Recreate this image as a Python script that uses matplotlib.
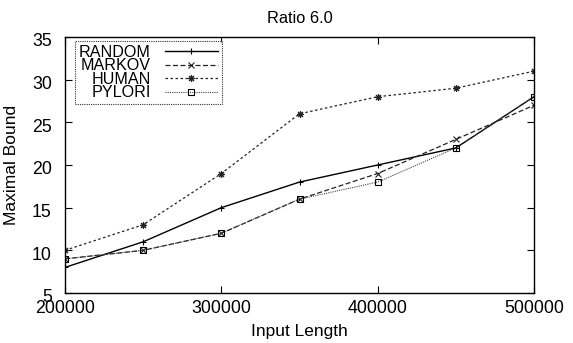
import matplotlib
matplotlib.use("Agg")
import matplotlib.pyplot as plt
from matplotlib.transforms import ScaledTranslation

plt.rcParams["font.family"] = ["Liberation Sans", "DejaVu Sans"]

lengths = [200000, 250000, 300000, 350000, 400000, 450000, 500000]
random_vals = [8, 11, 15, 18, 20, 22, 28]
markov_vals = [9, 10, 12, 16, 19, 23, 27]
human_vals = [10, 13, 19, 26, 28, 29, 31]
pylori_vals = [9, 10, 12, 16, 18, 22, 28]

fig = plt.figure(figsize=(5.73, 3.43), dpi=100)
ax = fig.add_axes([65 / 573, 1 - 293 / 343, 469 / 573, 256 / 343])

ax.plot(lengths, random_vals, color="black", lw=1.0, ls="-",
        marker="+", ms=5, mew=0.8, label="RANDOM")
ax.plot(lengths, markov_vals, color="#222222", lw=0.9, ls=(0, (4, 2)),
        marker="x", ms=4, mew=0.8, label="MARKOV")
ax.plot(lengths, human_vals, color="#222222", lw=0.9, ls=(0, (2, 2)),
        marker=(8, 2, 0), ms=5, mew=0.8, label="HUMAN")
ax.plot(lengths, pylori_vals, color="#444444", lw=0.8, ls=(0, (1, 1)),
        marker="s", ms=4, mfc="none", mec="black", mew=0.8, label="PYLORI")

ax.set_xlim(200000, 500000)
ax.set_ylim(5, 35)
ax.set_xticks([200000, 300000, 400000, 500000])
ax.set_yticks([5, 10, 15, 20, 25, 30, 35])
ax.tick_params(direction="in", top=True, right=True, length=5, width=0.8,
               labelsize=12.8)
ax.tick_params(axis="y", pad=9.5)
ax.tick_params(axis="x", pad=5)
for s in ax.spines.values():
    s.set_linewidth(1.0)

ax.set_title("Ratio 6.0", fontsize=11.8, pad=10)
ax.set_xlabel("Input Length", fontsize=12.5, labelpad=5)
ax.set_ylabel("Maximal Bound", fontsize=12.5, labelpad=9)

leg = ax.legend(loc="upper left", markerfirst=False, fontsize=11.6,
                frameon=True, fancybox=False, handlelength=3.3,
                borderpad=0.25, labelspacing=-0.1, handletextpad=0.85,
                borderaxespad=0.0, bbox_to_anchor=(10 / 469, 1 - 4 / 256))
leg.get_frame().set_edgecolor("black")
leg.get_frame().set_linestyle((0, (1, 1)))
leg.get_frame().set_linewidth(0.8)

# gnuplot draws the y tick labels a little below their ticks
fig.canvas.draw()
shift = ScaledTranslation(0, -3 / 100, fig.dpi_scale_trans)
for tick in ax.yaxis.get_major_ticks():
    tick.label1.set_transform(tick.label1.get_transform() + shift)

fig.savefig("out.png", dpi=100)
